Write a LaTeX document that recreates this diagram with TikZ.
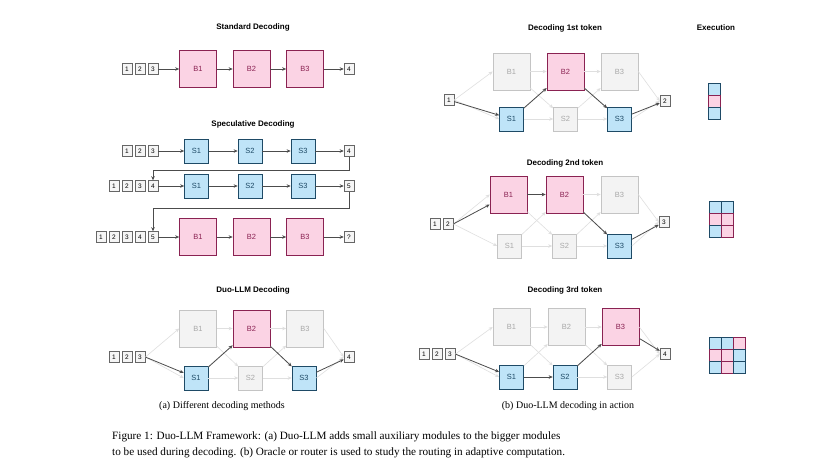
\documentclass[tikz,border=0pt]{standalone}
\usepackage{fontspec}
\setmainfont{Liberation Serif}
\newfontfamily\lsans{Liberation Sans}
\usetikzlibrary{arrows.meta}
\definecolor{pkf}{HTML}{FBD3E4}\definecolor{pkd}{HTML}{8A2252}
\definecolor{blf}{HTML}{BFE4F8}\definecolor{bld}{HTML}{1E4A66}
\definecolor{gyf}{HTML}{F3F3F3}\definecolor{gyd}{HTML}{C4C4C4}\definecolor{gyt}{HTML}{A8A8A8}
\tikzset{
 big/.style={draw=pkd,fill=pkf,text=pkd,minimum width=37pt,minimum height=37pt,font=\lsans\fontsize{7.5}{8}\selectfont,line width=0.7pt,inner sep=0},
 sml/.style={draw=bld,fill=blf,text=bld,minimum width=24pt,minimum height=24pt,font=\lsans\fontsize{7.5}{8}\selectfont,line width=0.7pt,inner sep=0},
 gbig/.style={big,draw=gyd,fill=gyf,text=gyt},
 gsml/.style={sml,draw=gyd,fill=gyf,text=gyt},
 tok/.style={draw=gray!80!black,fill=gray!8,minimum width=10pt,minimum height=11pt,inner sep=0,font=\lsans\fontsize{6.5}{7}\selectfont,line width=0.5pt},
 ttl/.style={font=\lsans\bfseries\fontsize{8}{9}\selectfont},
 arr/.style={draw=black!70,line width=0.8pt,-{Stealth[length=4pt,width=3.5pt]}},
 garr/.style={draw=gray!25,line width=0.6pt,-{Stealth[length=4pt,width=3.5pt]}},
 cell/.style={minimum size=12pt,inner sep=0,line width=0.7pt},
 cbl/.style={cell,draw=bld,fill=blf}, cpk/.style={cell,draw=pkd,fill=pkf}
}
\newcommand\tokrow[4]{% prefix, first x, y, count
 \foreach \i in {1,...,#4}{\node[tok] (#1\i) at ({#2+13*(\i-1)},#3) {\i};}}
\newcommand\grayedges[1]{%
 \draw[garr] (#1in.east) -- (#1B1.west); \draw[garr] (#1in.east) -- (#1S1.west);
 \foreach \a in {B1,S1}{\foreach \b in {B2,S2}{\draw[garr] (#1\a) -- (#1\b);}}
 \foreach \a in {B2,S2}{\foreach \b in {B3,S3}{\draw[garr] (#1\a) -- (#1\b);}}
 \draw[garr] (#1B3.east) -- (#1out.west); \draw[garr] (#1S3.east) -- (#1out.west);}
\begin{document}
\begin{tikzpicture}[x=1pt,y=-1pt]
\useasboundingbox[fill=white] (0,0) rectangle (836,472);
% Standard
\node[ttl] (t1) at (253,27) {Standard Decoding};
\tokrow{sa}{127}{69}{3}
\node[big] (sB1) at (198,69) {B1};\node[big] (sB2) at (251.5,69) {B2};\node[big] (sB3) at (305,69) {B3};
\node[tok] (so) at (349,69) {4};
\draw[arr] (sa3) -- (sB1);\draw[arr] (sB1) -- (sB2);\draw[arr] (sB2) -- (sB3);\draw[arr] (sB3) -- (so);
% Speculative
\node[ttl] (t2) at (253,124) {Speculative Decoding};
\tokrow{pa}{127}{151}{3}
\node[sml] (p1S1) at (196.5,151) {S1};\node[sml] (p1S2) at (250,151) {S2};\node[sml] (p1S3) at (303,151) {S3};
\node[tok] (po1) at (349,151) {4};
\draw[arr] (pa3) -- (p1S1);\draw[arr] (p1S1) -- (p1S2);\draw[arr] (p1S2) -- (p1S3);\draw[arr] (p1S3) -- (po1);
\tokrow{pb}{114}{186}{4}
\node[sml] (p2S1) at (196.5,186) {S1};\node[sml] (p2S2) at (250,186) {S2};\node[sml] (p2S3) at (303,186) {S3};
\node[tok] (po2) at (349,186) {5};
\draw[arr] (pb4) -- (p2S1);\draw[arr] (p2S1) -- (p2S2);\draw[arr] (p2S2) -- (p2S3);\draw[arr] (p2S3) -- (po2);
\tokrow{pc}{101}{237}{5}
\node[big] (pB1) at (198,237) {B1};\node[big] (pB2) at (251.5,237) {B2};\node[big] (pB3) at (305,237) {B3};
\node[tok] (po3) at (349,237) {?};
\draw[arr] (pc5) -- (pB1);\draw[arr] (pB1) -- (pB2);\draw[arr] (pB2) -- (pB3);\draw[arr] (pB3) -- (po3);
\draw[arr,line width=0.6pt] (po1.south) |- (153,170) -- (pb4.north);
\draw[arr,line width=0.6pt] (po2.south) |- (153,208) -- (pc5.north);
% Duo (a)
\node[ttl] (t3) at (253,290) {Duo-LLM Decoding};
\tokrow{da}{114}{357}{3}
\node[gbig] (dB1) at (198,328.5) {B1};\node[big] (dB2) at (251.5,328.5) {B2};\node[gbig] (dB3) at (305,328.5) {B3};
\node[sml] (dS1) at (196,378) {S1};\node[gsml] (dS2) at (250.5,378) {S2};\node[sml] (dS3) at (304,378) {S3};
\node[tok] (dout) at (349,357) {4};
\node[inner sep=0,minimum size=0] (din) at (da3.east) {};
\grayedges{d}
\draw[arr] (din) -- (dS1);\draw[arr] (dS1) -- (dB2);\draw[arr] (dB2) -- (dS3);\draw[arr] (dS3) -- (dout);
% 1st
\node[ttl] (t4) at (565,28) {Decoding 1st token};
\node[ttl] (t5) at (716,28) {Execution};
\node[tok] (e1in) at (449,100) {1};
\node[gbig] (e1B1) at (511.5,71.5) {B1};\node[big] (e1B2) at (565.5,71.5) {B2};\node[gbig] (e1B3) at (619.5,71.5) {B3};
\node[sml] (e1S1) at (511.5,119) {S1};\node[gsml] (e1S2) at (565.5,119) {S2};\node[sml] (e1S3) at (619.5,119) {S3};
\node[tok] (e1out) at (665,101) {2};
\grayedges{e1}
\draw[arr] (e1in) -- (e1S1);\draw[arr] (e1S1) -- (e1B2);\draw[arr] (e1B2) -- (e1S3);\draw[arr] (e1S3) -- (e1out);
% 2nd
\node[ttl] (t6) at (565,163) {Decoding 2nd token};
\tokrow{e2t}{435}{224}{2}
\node[inner sep=0,minimum size=0] (e2in) at (e2t2.east) {};
\node[big] (e2B1) at (508.5,194.5) {B1};\node[big] (e2B2) at (564.5,194.5) {B2};\node[gbig] (e2B3) at (619.5,194.5) {B3};
\node[gsml] (e2S1) at (509.5,246) {S1};\node[gsml] (e2S2) at (564.5,246) {S2};\node[sml] (e2S3) at (619.5,246) {S3};
\node[tok] (e2out) at (664,222) {3};
\grayedges{e2}
\draw[arr] (e2in) -- (e2B1);\draw[arr] (e2B1) -- (e2B2);\draw[arr] (e2B2) -- (e2S3);\draw[arr] (e2S3) -- (e2out);
% 3rd
\node[ttl] (t7) at (565,290) {Decoding 3rd token};
\tokrow{e3t}{424}{354}{3}
\node[inner sep=0,minimum size=0] (e3in) at (e3t3.east) {};
\node[gbig] (e3B1) at (511.5,327) {B1};\node[gbig] (e3B2) at (566.5,327) {B2};\node[big] (e3B3) at (620.5,327) {B3};
\node[sml] (e3S1) at (511.5,377) {S1};\node[sml] (e3S2) at (565,377) {S2};\node[gsml] (e3S3) at (619.5,377) {S3};
\node[tok] (e3out) at (665,354) {4};
\grayedges{e3}
\draw[arr] (e3in) -- (e3S1);\draw[arr] (e3S1) -- (e3S2);\draw[arr] (e3S2) -- (e3B3);\draw[arr] (e3B3) -- (e3out);
% execution grids
\node[cbl] (g11) at (714,89) {};\node[cpk] (g12) at (714,101) {};\node[cbl] (g13) at (714,113) {};
\node[cbl] (h11) at (715,207) {};\node[cpk] (h12) at (715,219) {};\node[cbl] (h13) at (715,231) {};
\node[cbl] (h21) at (727,207) {};\node[cpk] (h22) at (727,219) {};\node[cpk] (h23) at (727,231) {};
\node[cbl] (k11) at (715,343) {};\node[cpk] (k12) at (715,355) {};\node[cbl] (k13) at (715,367) {};
\node[cbl] (k21) at (727,343) {};\node[cpk] (k22) at (727,355) {};\node[cpk] (k23) at (727,367) {};
\node[cpk] (k31) at (739,343) {};\node[cbl] (k32) at (739,355) {};\node[cbl] (k33) at (739,367) {};
% captions
\node[font=\fontsize{10}{12}\selectfont] (capa) at (222,406) {(a) Different decoding methods};
\node[font=\fontsize{10}{12}\selectfont] (capb) at (568,406) {(b) Duo-LLM decoding in action};
\node[anchor=west,font=\fontsize{11.2}{13}\selectfont,inner sep=0] (f1) at (112,437) {Figure 1: Duo-LLM Framework: (a) Duo-LLM adds small auxiliary modules to the bigger modules};
\node[anchor=west,font=\fontsize{11.2}{13}\selectfont,inner sep=0] (f2) at (112,453) {to be used during decoding. (b) Oracle or router is used to study the routing in adaptive computation.};
\end{tikzpicture}
\end{document}
